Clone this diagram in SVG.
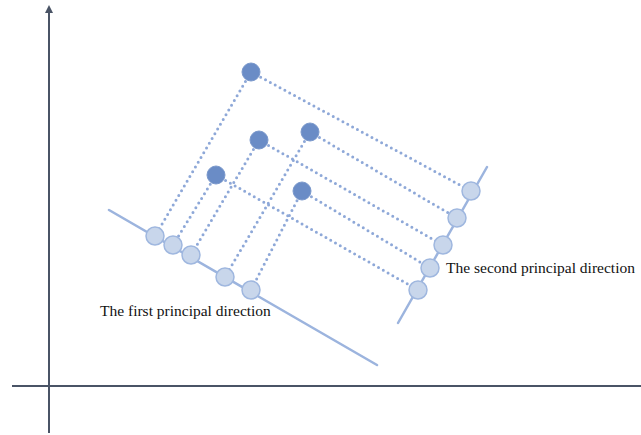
<svg xmlns="http://www.w3.org/2000/svg" width="641" height="435" viewBox="0 0 641 435">
<style>
.axis{stroke:#4a5466;stroke-width:2;fill:none}
.pline{stroke:#9cb4de;stroke-width:2.5;fill:none;stroke-linecap:round}
.dot{stroke:#8ea8d8;stroke-width:3;fill:none;stroke-linecap:round;stroke-dasharray:0 5.5}
.dark{fill:#6a8cc6;stroke:#7b99cc;stroke-width:1}
.light{fill:#c8d6eb;stroke:#9fb7df;stroke-width:1.5}
text{font-family:"Liberation Serif","Times New Roman",serif;font-size:15.5px;fill:#111}
</style>
<defs>
<marker id="arr" markerWidth="8" markerHeight="8" refX="4" refY="4" orient="auto" markerUnits="userSpaceOnUse">
<path d="M0,0 L8,4 L0,8 z" fill="#4a5466"/>
</marker>
</defs>
<g id="axes">
<line class="axis" x1="49" y1="433" x2="49" y2="9" marker-end="url(#arr)"/>
<line class="axis" x1="12" y1="386" x2="641" y2="386"/>
</g>
<g id="principal-lines">
<line class="pline" x1="109" y1="210" x2="377" y2="365"/>
<line class="pline" x1="398" y1="323" x2="487" y2="167"/>
</g>
<g id="connectors">
<line class="dot" x1="251" y1="72" x2="155" y2="236"/>
<line class="dot" x1="251" y1="72" x2="471" y2="191"/>
<line class="dot" x1="259" y1="140" x2="191" y2="255"/>
<line class="dot" x1="259" y1="140" x2="443" y2="245"/>
<line class="dot" x1="310" y1="132" x2="225" y2="277"/>
<line class="dot" x1="310" y1="132" x2="457" y2="218"/>
<line class="dot" x1="216" y1="175" x2="173" y2="245"/>
<line class="dot" x1="216" y1="175" x2="418" y2="290"/>
<line class="dot" x1="302" y1="191" x2="251" y2="290"/>
<line class="dot" x1="302" y1="191" x2="430" y2="268"/>
</g>
<g id="data-points">
<circle class="dark" cx="251" cy="72" r="9"/>
<circle class="dark" cx="259" cy="140" r="9"/>
<circle class="dark" cx="310" cy="132" r="9"/>
<circle class="dark" cx="216" cy="175" r="9"/>
<circle class="dark" cx="302" cy="191" r="9"/>
</g>
<g id="first-projections">
<circle class="light" cx="155" cy="236" r="9"/>
<circle class="light" cx="173" cy="245" r="9"/>
<circle class="light" cx="191" cy="255" r="9"/>
<circle class="light" cx="225" cy="277" r="9"/>
<circle class="light" cx="251" cy="290" r="9"/>
</g>
<g id="second-projections">
<circle class="light" cx="471" cy="191" r="9"/>
<circle class="light" cx="457" cy="218" r="9"/>
<circle class="light" cx="443" cy="245" r="9"/>
<circle class="light" cx="430" cy="268" r="9"/>
<circle class="light" cx="418" cy="290" r="9"/>
</g>
<g id="labels">
<text x="100" y="316">The first principal direction</text>
<text x="446" y="273">The second principal direction</text>
</g>
</svg>
